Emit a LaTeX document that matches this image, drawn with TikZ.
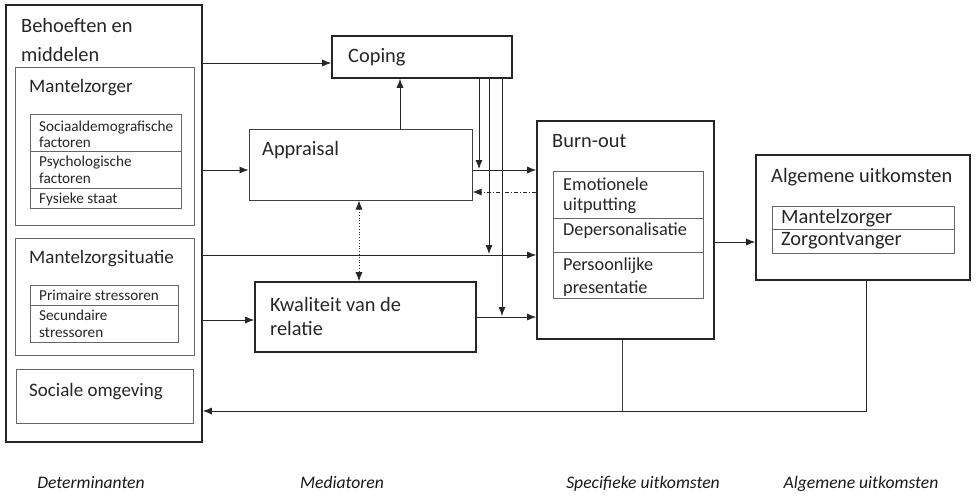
\documentclass[tikz,border=0pt]{standalone}
\usepackage{fontspec}
\setmainfont{Carlito}
\usetikzlibrary{arrows.meta,fit}
\begin{document}
\begin{tikzpicture}[x=1pt,y=-1pt,
 thickbox/.style={draw=black!85, line width=1.6pt, inner sep=0},
 thinbox/.style={draw=black!60, line width=0.8pt, inner sep=0},
 midbox/.style={draw=black!75, line width=1pt, inner sep=0},
 lbl/.style={anchor=base west, inner sep=0, text=black!85, font=\fontsize{20.4}{22}\selectfont},
 sub/.style={anchor=base west, inner sep=0, text=black!85, font=\fontsize{19}{21}\selectfont},
 bol/.style={anchor=base west, inner sep=0, text=black!85, font=\fontsize{18.3}{20}\selectfont},
 sml/.style={anchor=base west, inner sep=0, text=black!85, font=\fontsize{15.2}{17}\selectfont},
 capt/.style={anchor=base, inner sep=0, text=black!90, font=\fontsize{17.6}{19}\selectfont\itshape},
 arr/.style={draw=black!85, line width=0.8pt, -{Latex[length=9pt,width=7pt]}},
 ln/.style={draw=black!75, line width=0.8pt},
 divl/.style={draw=black!60, line width=0.8pt}]
\useasboundingbox (0,0) rectangle (976,495);
% boxes
\node[thickbox, fit={(6,5) (202,442)}] (outer) {};
\node[thinbox, fit={(15,67) (194,225)}] (mz) {};
\node[thinbox, fit={(30,114) (181,208)}] (mzlist) {};
\node[thinbox, fit={(15,238) (194,355)}] (ms) {};
\node[thinbox, fit={(30,285) (178,342)}] (mslist) {};
\node[thinbox, fit={(16,369) (193,423)}] (so) {};
\node[thickbox, fit={(332,36) (512,78)}] (coping) {};
\node[midbox, fit={(249,129) (472,200)}] (appr) {};
\node[thickbox, fit={(255,282) (476,352)}] (kw) {};
\node[thickbox, fit={(537,121) (714,339)}] (bo) {};
\node[thinbox, fit={(553,171) (703,298)}] (bolist) {};
\node[thickbox, fit={(756,155) (970,280)}] (alg) {};
\node[thinbox, fit={(772,206) (954,253)}] (alglist) {};
% dividers
\draw[divl] (mzlist.west |- 0,151) -- (mzlist.east |- 0,151);
\draw[divl] (mzlist.west |- 0,188) -- (mzlist.east |- 0,188);
\draw[divl] (mslist.west |- 0,305) -- (mslist.east |- 0,305);
\draw[divl] (bolist.west |- 0,218) -- (bolist.east |- 0,218);
\draw[divl] (bolist.west |- 0,252) -- (bolist.east |- 0,252);
\draw[divl] (alglist.west |- 0,229) -- (alglist.east |- 0,229);
% texts
\node[lbl] (t1) at (21,33) {Behoeften en};
\node[lbl] (t2) at (21,61) {middelen};
\node[sub] (t3) at (29,92) {Mantelzorger};
\node[sml] (t4) at (39,131) {Sociaaldemografische};
\node[sml] (t5) at (39,147) {factoren};
\node[sml] (t6) at (39,166) {Psychologische};
\node[sml] (t7) at (39,183) {factoren};
\node[sml] (t8) at (39,203) {Fysieke staat};
\node[sub] (t9) at (29,263) {Mantelzorgsituatie};
\node[sml] (t10) at (39,300) {Primaire stressoren};
\node[sml] (t11) at (39,320) {Secundaire};
\node[sml] (t12) at (39,337) {stressoren};
\node[sub] (t13) at (29,396) {Sociale omgeving};
\node[lbl] (t14) at (348,63) {Coping};
\node[lbl] (t15) at (262,155) {Appraisal};
\node[lbl] (t16) at (270,311) {Kwaliteit van de};
\node[lbl] (t17) at (270,335) {relatie};
\node[lbl] (t18) at (552,147) {Burn-out};
\node[bol] (t19) at (563,190) {Emotionele};
\node[bol] (t20) at (563,210) {uitputting};
\node[bol] (t21) at (563,235) {Depersonalisatie};
\node[bol] (t22) at (563,270) {Persoonlijke};
\node[bol] (t23) at (563,293) {presentatie};
\node[lbl] (t24) at (771,182) {Algemene uitkomsten};
\node[lbl] (t25) at (781,223) {Mantelzorger};
\node[lbl] (t26) at (781,245) {Zorgontvanger};
\node[capt] (c1) at (91,488) {Determinanten};
\node[capt] (c2) at (342,488) {Mediatoren};
\node[capt] (c3) at (643,488) {Specifieke uitkomsten};
\node[capt] (c4) at (861,488) {Algemene uitkomsten};
% connectors
\draw[arr] (outer.east |- 0,63) -- (coping.west |- 0,63);
\draw[arr] (outer.east |- 0,170) -- (appr.west |- 0,170);
\draw[arr] (outer.east |- 0,255) -- (bo.west |- 0,255);
\draw[arr] (outer.east |- 0,320) -- (kw.west |- 0,320);
\draw[arr] (appr.north -| 400,0) -- (coping.south -| 400,0);
\draw[arr] (appr.east |- 0,170) -- (bo.west |- 0,170);
\draw[arr, dash pattern=on 4pt off 2pt on 1pt off 2pt] (bo.west |- 0,192) -- (appr.east |- 0,192);
\coordinate (j1) at (479,169);
\coordinate (j2) at (489,254);
\coordinate (j3) at (502,316);
\draw[arr] (coping.south -| j1) -- (j1);
\draw[arr] (coping.south -| j2) -- (j2);
\draw[arr] (coping.south -| j3) -- (j3);
\draw[arr] (kw.east |- 0,317) -- (bo.west |- 0,317);
\draw[arr, {Latex[length=9pt,width=7pt]}-{Latex[length=9pt,width=7pt]}, dotted] (appr.south -| 359,0) -- (kw.north -| 359,0);
\draw[arr] (bo.east |- 0,242) -- (alg.west |- 0,242);
\coordinate (f1) at (866,411);
\coordinate (f2) at (622,411);
\draw[ln] (bo.south -| f2) -- (f2);
\draw[arr] (alg.south -| f1) -- (f1) -- (outer.east |- f1);
\end{tikzpicture}
\end{document}
